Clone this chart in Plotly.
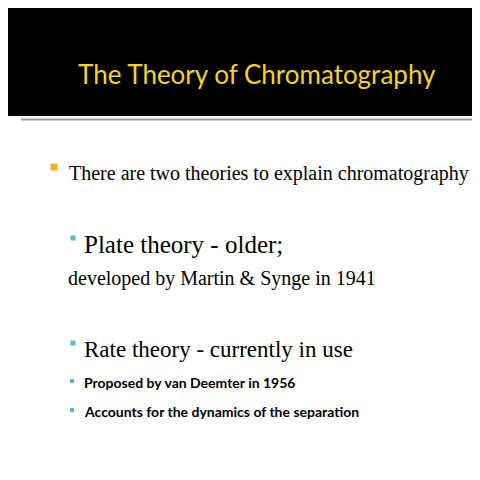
import plotly.graph_objects as go

# slide content
title = "The Theory of Chromatography"
lines = [
    "There are two theories to explain chromatography",
    "Plate theory - older;",
    "developed by Martin & Synge in 1941",
    "Rate theory - currently in use",
    "Proposed by van Deemter in 1956",
    "Accounts for the dynamics of the separation",
]
line_x = [51, 66, 50, 66, 66, 66]
line_y = [157, 228, 262, 333, 366, 395]
line_size = [20, 25, 20, 23, 14, 14]
line_font = ["Liberation Serif"] * 4 + ["Lato"] * 2
bullet_x = [38, 57, None, 57, 56, 56]
bullet_size = [7, 5, 0, 5, 4, 4]
bullet_color = ["#f0b323", "#5bb7d0", None, "#5bb7d0", "#5bb7d0", "#5bb7d0"]

# page body margin offsets the figure by 8px, shift ranges to compensate
off = 8

fig = go.Figure()

fig.add_shape(type="rect", x0=-off, x1=480, y0=-off, y1=100, fillcolor="black", line_width=0, layer="below")
fig.add_shape(type="line", x0=5, x1=480, y0=103.5, y1=103.5, line=dict(color="#9a9a9a", width=2))

fig.add_annotation(x=241, y=58, text=title, showarrow=False, xanchor="center", yanchor="middle",
                   font=dict(family="Lato", size=26, color="#f5d327"))

for i, t in enumerate(lines):
    weight = "bold" if line_font[i] == "Lato" else "normal"
    fig.add_annotation(x=line_x[i], y=line_y[i], text=t, showarrow=False, xanchor="left", yanchor="middle",
                       font=dict(family=line_font[i], size=line_size[i], color="black", weight=weight))
    if bullet_x[i] is not None:
        s = bullet_size[i]
        by = line_y[i] - (6 if i in (0, 1, 3) else 1)
        fig.add_shape(type="rect", x0=bullet_x[i] - s / 2, x1=bullet_x[i] + s / 2,
                      y0=by - s / 2, y1=by + s / 2, fillcolor=bullet_color[i], line_width=0)

fig.update_layout(
    width=480, height=480, margin=dict(l=0, r=0, t=0, b=0),
    paper_bgcolor="white", plot_bgcolor="white", showlegend=False,
    xaxis=dict(range=[-off, 480 - off], visible=False, fixedrange=True),
    yaxis=dict(range=[480 - off, -off], visible=False, fixedrange=True),
)

fig.write_html("out.html")
